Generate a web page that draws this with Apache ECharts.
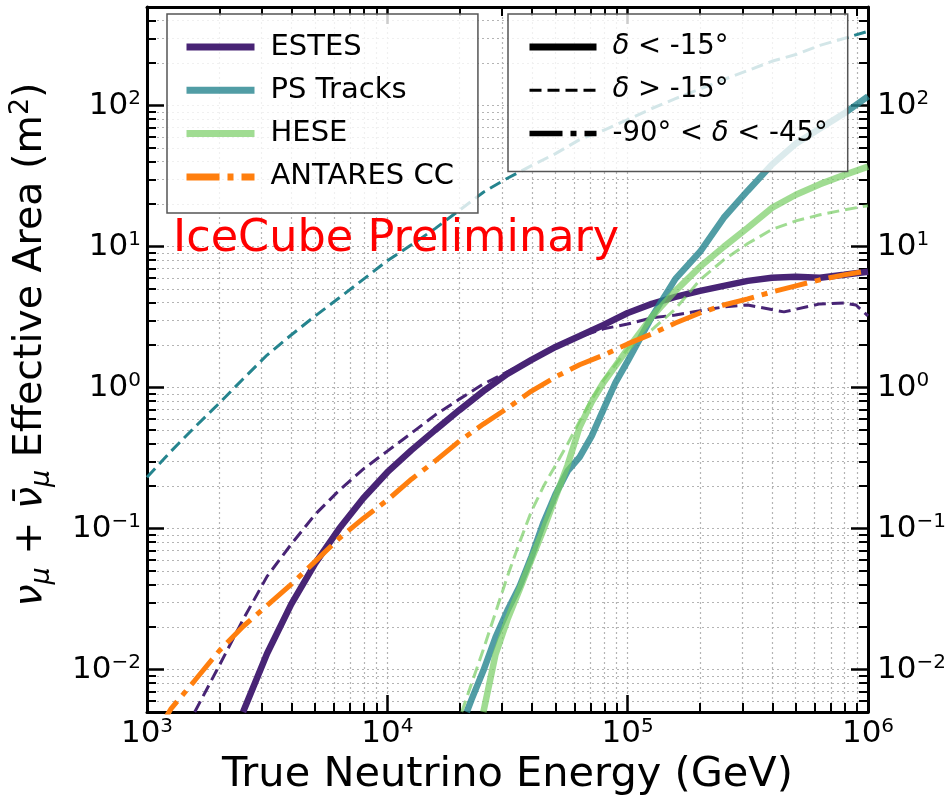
<!DOCTYPE html>
<html>
<head>
<meta charset="utf-8">
<title>Effective Area</title>
<script src="https://cdn.jsdelivr.net/npm/echarts@6.0.0/dist/echarts.min.js"></script>
<style>
  html, body { margin: 0; padding: 0; background: #fff; }
  #chart { width: 952px; height: 800px; }
</style>
</head>
<body>
<div id="chart"></div>
<script>
// axis ranges and tick values
const xMin = 1e3, xMax = 1e6
const yMin = 0.005, yMax = 500
const xMajor = [1e3, 1e4, 1e5, 1e6]
const yMajor = [0.01, 0.1, 1, 10, 100]
const mantissas = [2, 3, 4, 5, 6, 7, 8, 9]

// ESTES, delta < -15 (solid)
const estesE = [2510, 3160, 3980, 5010, 6310, 7940, 10000, 12600, 15800, 19950, 25100, 31600, 39800, 50100, 63100, 79400, 100000, 126000, 158000, 200000, 251000, 316000, 398000, 501000, 631000, 794000, 1000000]
const estesA = [0.005, 0.013, 0.029, 0.0566, 0.100, 0.164, 0.251, 0.360, 0.499, 0.692, 0.944, 1.25, 1.57, 1.94, 2.32, 2.78, 3.38, 3.92, 4.40, 4.85, 5.26, 5.71, 6.00, 6.10, 6.00, 6.30, 6.62]
// ESTES, delta > -15 (dashed)
const estesDashE = [1580, 2000, 2510, 3160, 3980, 5010, 6310, 7940, 10000, 12600, 15800, 19950, 25100, 31600, 39800, 50100, 63100, 79400, 100000, 126000, 158000, 200000, 251000, 316000, 447000, 631000, 794000, 891000, 1000000]
const estesDashA = [0.005, 0.0107, 0.0226, 0.0458, 0.0773, 0.126, 0.187, 0.264, 0.354, 0.475, 0.638, 0.828, 1.06, 1.29, 1.59, 1.91, 2.29, 2.61, 2.82, 3.12, 3.27, 3.50, 3.73, 3.85, 3.44, 3.92, 3.98, 3.85, 3.22]
// PS Tracks
const psE = [21400, 22400, 25100, 28200, 31600, 35500, 39800, 44700, 50100, 56200, 63100, 70800, 79400, 89100, 100000, 126000, 158000, 200000, 251000, 316000, 398000, 501000, 631000, 794000, 1000000]
const psA = [0.005, 0.00612, 0.00984, 0.0169, 0.0262, 0.0389, 0.0635, 0.111, 0.175, 0.255, 0.321, 0.452, 0.703, 1.09, 1.54, 3.17, 5.90, 9.18, 16.0, 24.9, 38.1, 53.7, 68.7, 87.7, 116]
const psDashE = [1000, 1260, 1580, 2000, 2510, 3160, 3980, 5010, 6310, 7940, 10000, 12600, 15800, 19950, 25100, 31600, 39800, 50100, 63100, 79400, 100000, 126000, 158000, 200000, 251000, 316000, 398000, 501000, 631000, 794000, 1000000]
const psDashA = [0.231, 0.354, 0.524, 0.776, 1.15, 1.70, 2.36, 3.22, 4.33, 5.85, 7.93, 10.3, 13.4, 18.1, 24.3, 30.5, 37.5, 45.6, 57.3, 66.8, 79.4, 95.3, 112, 131, 153, 177, 206, 230, 267, 299, 336]
// HESE
const heseE = [25100, 28200, 31600, 35500, 39800, 44700, 50100, 56200, 63100, 70800, 79400, 100000, 126000, 158000, 200000, 251000, 316000, 398000, 501000, 631000, 794000, 1000000]
const heseA = [0.005, 0.0128, 0.0226, 0.0370, 0.0605, 0.0989, 0.167, 0.281, 0.524, 0.789, 1.09, 1.88, 3.17, 4.85, 7.18, 9.95, 13.6, 18.8, 23.3, 27.7, 32.1, 36.9]
const heseDashE = [20400, 22400, 25100, 28200, 31600, 35500, 39800, 44700, 50100, 56200, 63100, 70800, 79400, 100000, 126000, 158000, 200000, 251000, 316000, 398000, 501000, 631000, 794000, 1000000]
const heseDashA = [0.005, 0.00794, 0.0139, 0.0254, 0.0458, 0.0798, 0.133, 0.200, 0.281, 0.397, 0.578, 0.820, 1.13, 1.88, 2.56, 3.61, 5.81, 8.05, 10.5, 13.2, 15.2, 16.8, 18.2, 19.5]
// ANTARES CC, -90 < delta < -45 (dash-dot)
const antaresE = [1120, 1260, 1580, 2000, 2510, 3160, 3980, 5010, 6310, 7940, 10000, 12600, 15800, 19950, 25100, 31600, 39800, 50100, 63100, 79400, 100000, 126000, 158000, 200000, 251000, 316000, 398000, 501000, 631000, 794000, 1000000]
const antaresA = [0.0038, 0.00528, 0.00836, 0.0136, 0.0202, 0.0285, 0.0402, 0.0585, 0.0853, 0.118, 0.159, 0.224, 0.301, 0.417, 0.551, 0.714, 0.944, 1.19, 1.45, 1.70, 2.04, 2.40, 2.87, 3.38, 3.85, 4.26, 4.76, 5.26, 5.81, 6.30, 6.73]

const legendSamples = ['ESTES', 'PS Tracks', 'HESE', 'ANTARES CC']
const legendDecl = ['δ < -15°', 'δ > -15°', '-90° < δ < -45°']

const FONT = 'DejaVu Sans'
const cEstes = '#482475'
const cPs = 'rgba(38,132,143,0.8)'
const cPsDash = '#25848e'
const cHese = 'rgba(120,205,100,0.7)'
const cAntares = '#ff7f0e'
const gridColor = '#b4b4b4'
const dashed = [12, 6]
const dashDot = [33, 8, 6, 8]

// minor ticks 2..9 x 10^n
const xMinor = [1e3, 1e4, 1e5].flatMap(d => mantissas.map(m => m * d))
const yMinor = [0.001, 0.01, 0.1, 1, 10, 100]
  .flatMap(d => mantissas.map(m => +(m * d).toPrecision(3)))
  .filter(v => v > yMin && v < yMax)

const zip = (xs, ys) => xs.map((x, i) => [x, ys[i]])

function powLabel(v) {
  const e = Math.round(Math.log10(v))
  return '{b|10}{s|' + (e < 0 ? '\u2212' + (-e) : e) + '}'
}
const labelRich = {
  b: { fontSize: 31, lineHeight: 34, fontFamily: FONT, color: '#000' },
  s: { fontSize: 20, lineHeight: 20, verticalAlign: 'top', fontFamily: FONT, color: '#000' }
}

function axis(dim, o) {
  const base = {
    type: 'log',
    logBase: 10,
    gridIndex: 0,
    min: dim === 'x' ? xMin : yMin,
    max: dim === 'x' ? xMax : yMax,
    position: o.position,
    axisLine: { show: !!o.line, onZero: false, lineStyle: { color: '#000', width: 3 } },
    axisTick: {
      show: true,
      inside: true,
      length: o.minor ? 9 : 17,
      customValues: o.minor ? (dim === 'x' ? xMinor : yMinor) : (dim === 'x' ? xMajor : yMajor),
      lineStyle: { color: '#000', width: o.minor ? 2 : 2.5 }
    },
    axisLabel: { show: false },
    splitLine: {
      show: !!o.split,
      lineStyle: { type: [2, 3], color: gridColor, width: 1.2 }
    },
    minorTick: { show: false },
    minorSplitLine: { show: false }
  }
  if (o.labels) {
    base.axisLabel = {
      show: true,
      customValues: dim === 'x' ? xMajor : yMajor,
      formatter: powLabel,
      rich: labelRich,
      margin: o.margin
    }
  }
  return Object.assign(base, o.extra || {})
}

const chart = echarts.init(document.getElementById('chart'))

const line = (name, data, color, width, type) => ({
  name,
  type: 'line',
  xAxisIndex: 0,
  yAxisIndex: 0,
  data,
  symbol: 'none',
  smooth: false,
  clip: true,
  lineStyle: { color, width, type },
  itemStyle: { color },
  emphasis: { disabled: true }
})

const option = {
  animation: false,
  backgroundColor: '#fff',
  textStyle: { fontFamily: FONT },
  grid: { left: 147, right: 84, top: 7, bottom: 88, containLabel: false, outerBoundsMode: 'none' },
  xAxis: [
    axis('x', {
      position: 'bottom', line: true, split: true, labels: true, margin: 5,
      extra: {
        name: 'True Neutrino Energy (GeV)',
        nameLocation: 'middle',
        nameGap: 41,
        nameTextStyle: { fontSize: 41.5, lineHeight: 42, fontFamily: FONT, color: '#000' }
      }
    }),
    axis('x', { position: 'bottom', minor: true, split: true }),
    axis('x', { position: 'top', line: true }),
    axis('x', { position: 'top', minor: true })
  ],
  yAxis: [
    axis('y', {
      position: 'left', line: true, split: true, labels: true, margin: 6,
      extra: {
        name: '{i|ν}{sb|μ}{n| + }{i|ν\u0304}{sb|μ}{n| Effective Area (m}{sp|2}{n|)}',
        nameLocation: 'middle',
        nameRotate: 90,
        nameGap: 92,
        nameTextStyle: {
          color: '#000',
          padding: [0, 0, 0, 30],
          rich: {
            n: { fontSize: 39.5, lineHeight: 48, fontFamily: FONT, color: '#000' },
            i: { fontSize: 39.5, lineHeight: 48, fontFamily: FONT, fontStyle: 'italic', color: '#000' },
            sb: { fontSize: 27, lineHeight: 27, verticalAlign: 'bottom', fontFamily: FONT, fontStyle: 'italic', color: '#000' },
            sp: { fontSize: 27, lineHeight: 27, verticalAlign: 'top', fontFamily: FONT, color: '#000' }
          }
        }
      }
    }),
    axis('y', { position: 'left', minor: true, split: true }),
    axis('y', { position: 'right', line: true, labels: true, margin: 9 }),
    axis('y', { position: 'right', minor: true })
  ],
  legend: [
    {
      data: legendSamples.map(name => ({ name })),
      orient: 'vertical',
      left: 167,
      top: 14,
      padding: [17, 24, 20, 16],
      itemWidth: 68,
      itemHeight: 14,
      itemGap: 11.3,
      borderColor: '#555',
      borderWidth: 1.5,
      borderRadius: 0,
      backgroundColor: 'rgba(255,255,255,0.8)',
      selectedMode: false,
      itemStyle: { opacity: 0 },
      lineStyle: { width: 7 },
      textStyle: { fontFamily: FONT, fontSize: 29, lineHeight: 32, color: '#000', padding: [0, 0, 0, 11] }
    },
    {
      data: [
        { name: legendDecl[0], lineStyle: { width: 7 } },
        { name: legendDecl[1], lineStyle: { width: 3 } },
        { name: legendDecl[2], lineStyle: { width: 5.5 } }
      ],
      orient: 'vertical',
      left: 508,
      top: 14,
      padding: [17, 20, 22, 18],
      itemWidth: 67,
      itemHeight: 14,
      itemGap: 11.3,
      borderColor: '#555',
      borderWidth: 1.5,
      borderRadius: 0,
      backgroundColor: 'rgba(255,255,255,0.8)',
      selectedMode: false,
      itemStyle: { opacity: 0 },
      formatter: name => {
        if (name === legendDecl[0]) return '{i|δ}{n| < -15°}'
        if (name === legendDecl[1]) return '{i|δ}{n| > -15°}'
        return '{n|-90° < }{i|δ}{n| < -45°}'
      },
      textStyle: {
        fontFamily: FONT, fontSize: 27.5, lineHeight: 32, color: '#000', padding: [0, 0, 0, 11],
        rich: {
          n: { fontFamily: FONT, fontSize: 27.5, lineHeight: 32, color: '#000' },
          i: { fontFamily: FONT, fontSize: 27.5, lineHeight: 32, fontStyle: 'italic', color: '#000' }
        }
      }
    }
  ],
  graphic: [
    {
      type: 'text',
      x: 173,
      y: 239,
      z: 10,
      style: {
        text: 'IceCube Preliminary',
        fill: '#ff0000',
        fontSize: 44.6,
        fontFamily: FONT,
        align: 'left',
        verticalAlign: 'middle'
      }
    }
  ],
  series: [
    line('ESTES', zip(estesE, estesA), cEstes, 6.5, 'solid'),
    line('ESTES δ > -15°', zip(estesDashE, estesDashA), cEstes, 3, dashed),
    line('PS Tracks', zip(psE, psA), cPs, 6.5, 'solid'),
    line('PS Tracks δ > -15°', zip(psDashE, psDashA), cPsDash, 3, dashed),
    line('HESE', zip(heseE, heseA), cHese, 6.5, 'solid'),
    line('HESE δ > -15°', zip(heseDashE, heseDashA), cHese, 3, dashed),
    line('ANTARES CC', zip(antaresE, antaresA), cAntares, 5, dashDot),
    // legend-only entries for the declination styles
    line(legendDecl[0], [], '#000', 7, 'solid'),
    line(legendDecl[1], [], '#000', 3, dashed),
    line(legendDecl[2], [], '#000', 5.5, dashDot)
  ]
}

chart.setOption(option)
window.addEventListener('resize', () => chart.resize())
</script>
</body>
</html>
